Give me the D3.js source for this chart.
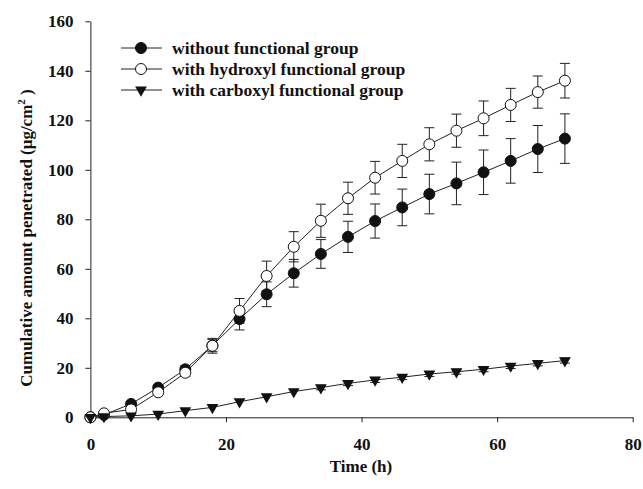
<!DOCTYPE html>
<html>
<head>
<meta charset="utf-8">
<script src="https://cdn.jsdelivr.net/npm/d3@7"></script>
<style>
  html, body { margin: 0; padding: 0; background: #fff; }
  svg text { font-family: "Liberation Serif", "Times New Roman", "DejaVu Serif", serif; font-weight: bold; }
</style>
</head>
<body>
<div id="chart"></div>
<script>
// Sampling times (h)
const times = [0, 2, 6, 10, 14, 18, 22, 26, 30, 34, 38, 42, 46, 50, 54, 58, 62, 66, 70]

// Cumulative amount penetrated (µg/cm²) and SD per series
const noGroupMean = [0, 1, 5.4, 12, 19.4, 29, 39.7, 49.7, 58.2, 66, 72.9, 79.3, 84.8, 90.2, 94.5, 99, 103.6, 108.4, 112.6]
const noGroupSd   = [0, 0.5, 0.8, 1, 1.5, 2.5, 4.4, 5, 5.6, 5.8, 6.3, 6.9, 7.4, 8, 8.6, 9, 9, 9.5, 10]

const hydroxylMean = [0, 1.6, 3.2, 10.1, 18, 28.9, 43, 57.1, 68.9, 79.4, 88.5, 96.8, 103.6, 110.3, 115.8, 120.8, 126.2, 131.4, 136]
const hydroxylSd   = [0, 0.5, 0.8, 1, 1.5, 3, 5, 6, 6.1, 6.7, 6.5, 6.6, 6.7, 6.7, 6.7, 7, 6.7, 6.5, 7]

const carboxylMean = [0, 0.3, 0.6, 1.3, 2.7, 4, 6.3, 8.3, 10.4, 12, 13.7, 15.1, 16.2, 17.5, 18.4, 19.4, 20.7, 21.8, 22.9]
const carboxylSd   = [0, 0.2, 0.3, 0.4, 0.5, 0.6, 0.7, 0.8, 0.8, 0.9, 0.9, 1, 1, 1, 1, 1, 1, 1, 1]

const seriesNames = ['without functional group', 'with hydroxyl functional group', 'with carboxyl functional group']
const xTicks = [0, 20, 40, 60, 80]
const yTicks = [0, 20, 40, 60, 80, 100, 120, 140, 160]

const width = 643, height = 489
const serif = '"Liberation Serif", "Times New Roman", "DejaVu Serif", serif'
const svg = d3.select('#chart').append('svg')
  .attr('width', width).attr('height', height)

const x = d3.scaleLinear().domain([0, 80]).range([90.4, 632.7])
const y = d3.scaleLinear().domain([0, 160]).range([417.3, 21.3])

// Axes
const xAxis = svg.append('g')
  .attr('transform', `translate(0,${y(0)})`)
  .call(d3.axisBottom(x).tickValues(xTicks).tickSize(5).tickSizeOuter(0).tickPadding(16))
const yAxis = svg.append('g')
  .attr('transform', `translate(${x(0)},0)`)
  .call(d3.axisLeft(y).tickValues(yTicks).tickSize(5).tickSizeOuter(0).tickPadding(12))

;[xAxis, yAxis].forEach(a => {
  a.attr('font-family', serif)
  a.selectAll('path, line').attr('stroke', '#222').attr('stroke-width', 1)
  a.selectAll('text').attr('fill', '#111').style('font-size', '17px')
})

// Axis titles
svg.append('text')
  .attr('x', 361).attr('y', 472)
  .attr('text-anchor', 'middle')
  .style('font-size', '17px').attr('fill', '#111')
  .text('Time (h)')

const yTitle = svg.append('text')
  .attr('transform', `translate(32,238) rotate(-90)`)
  .attr('text-anchor', 'middle')
  .style('font-size', '17px').attr('fill', '#111')
yTitle.append('tspan').text('Cumulative amount penetrated (\u03bcg/cm')
yTitle.append('tspan').attr('dy', -7).style('font-size', '11px').text('2')
yTitle.append('tspan').attr('dy', 7).text(' )')

const series = [
  { name: seriesNames[0], mean: noGroupMean, sd: noGroupSd, marker: 'filled' },
  { name: seriesNames[1], mean: hydroxylMean, sd: hydroxylSd, marker: 'open' },
  { name: seriesNames[2], mean: carboxylMean, sd: carboxylSd, marker: 'triangle' }
]

const line = d3.line().x(d => x(d[0])).y(d => y(d[1]))
const triangle = d3.symbol().type(d3.symbolTriangle).size(60)

function drawMarker(g, kind, cx, cy) {
  if (kind === 'triangle') {
    g.append('path')
      .attr('d', triangle())
      .attr('transform', `translate(${cx},${cy}) rotate(180)`)
      .attr('fill', '#111')
  } else {
    g.append('circle')
      .attr('cx', cx).attr('cy', cy).attr('r', 5.5)
      .attr('fill', kind === 'open' ? '#fff' : '#111')
      .attr('stroke', '#111').attr('stroke-width', 1)
  }
}

const plot = svg.append('g')

series.forEach(s => {
  const pts = times.map((t, i) => [t, s.mean[i], s.sd[i]])
  plot.append('path').datum(pts)
    .attr('d', line).attr('fill', 'none').attr('stroke', '#222').attr('stroke-width', 1)

  // Error bars
  pts.forEach(([t, m, sd]) => {
    if (sd < 0.9) return
    const cx = x(t)
    const eb = plot.append('g').attr('stroke', '#222').attr('stroke-width', 1)
    eb.append('line').attr('x1', cx).attr('x2', cx).attr('y1', y(m + sd)).attr('y2', y(m - sd))
    eb.append('line').attr('x1', cx - 5).attr('x2', cx + 5).attr('y1', y(m + sd)).attr('y2', y(m + sd))
    eb.append('line').attr('x1', cx - 5).attr('x2', cx + 5).attr('y1', y(m - sd)).attr('y2', y(m - sd))
  })
})

series.forEach(s => {
  times.forEach((t, i) => drawMarker(plot, s.marker, x(t), y(s.mean[i])))
})

// Legend
const legend = svg.append('g')
series.forEach((s, i) => {
  const ly = 48 + i * 21
  legend.append('line').attr('x1', 121).attr('x2', 162).attr('y1', ly).attr('y2', ly)
    .attr('stroke', '#222').attr('stroke-width', 1)
  drawMarker(legend, s.marker, 141, ly)
  legend.append('text')
    .attr('x', 172).attr('y', ly).attr('dy', '0.33em')
    .style('font-size', '17.5px').attr('fill', '#111')
    .text(s.name)
})
</script>
</body>
</html>
